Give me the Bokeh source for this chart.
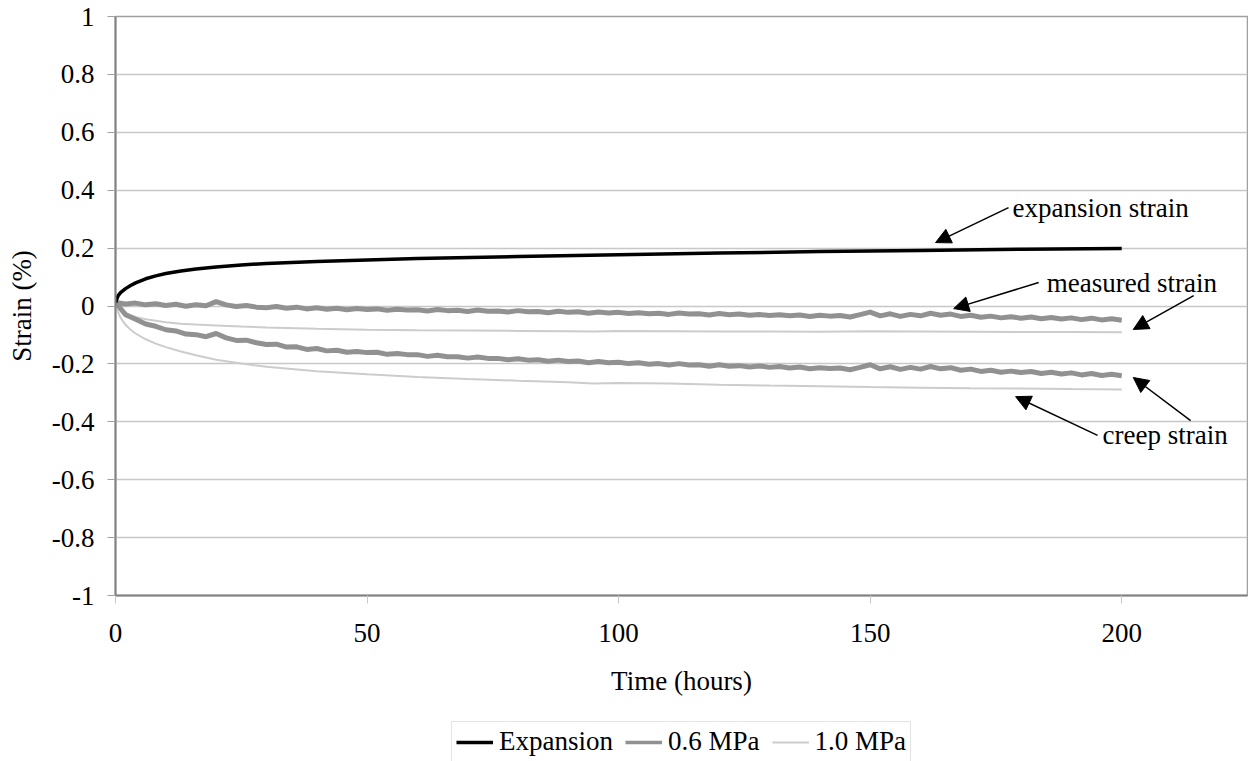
from bokeh.plotting import figure
from bokeh.layouts import column
from bokeh.models import (FixedTicker, CustomJSTickFormatter, Range1d, Legend, LegendItem,
                          Arrow, NormalHead, Label)
from bokeh.embed import file_html
from bokeh.resources import INLINE

FONT = "Liberation Serif"
FS = "27px"

# ---- data ----
t_exp = [0, 0.5, 1, 2, 3, 4, 6, 8, 10, 13, 16, 20, 25, 30, 40, 50, 60, 80, 100, 120, 140, 160, 180, 200]
expansion = [0.012, 0.035, 0.046, 0.060, 0.071, 0.080, 0.094, 0.104, 0.112, 0.121, 0.128, 0.135, 0.142,
             0.147, 0.154, 0.159, 0.164, 0.171, 0.177, 0.183, 0.188, 0.192, 0.196, 0.199]

t_06 = list(range(0, 201, 2))
measured_06 = [0.012, 0.007, 0.010, 0.004, 0.008, 0.002, 0.006, -0.001, 0.004, 0.001,
               0.015, 0.004, -0.002, 0.002, -0.004, -0.006, -0.002, -0.008, -0.004, -0.010,
               -0.006, -0.011, -0.008, -0.013, -0.009, -0.012, -0.010, -0.015, -0.011, -0.014,
               -0.013, -0.017, -0.012, -0.016, -0.015, -0.019, -0.014, -0.018, -0.017, -0.021,
               -0.016, -0.020, -0.019, -0.023, -0.018, -0.022, -0.020, -0.025, -0.021, -0.024,
               -0.022, -0.026, -0.023, -0.027, -0.025, -0.029, -0.024, -0.028, -0.027, -0.031,
               -0.026, -0.030, -0.028, -0.032, -0.029, -0.033, -0.030, -0.034, -0.031, -0.036,
               -0.032, -0.035, -0.033, -0.038, -0.030, -0.021, -0.034, -0.027, -0.036, -0.029,
               -0.034, -0.025, -0.032, -0.028, -0.036, -0.032, -0.039, -0.035, -0.041, -0.037,
               -0.042, -0.038, -0.044, -0.040, -0.045, -0.041, -0.047, -0.042, -0.048, -0.044, -0.049]
creep_06 = [0.012, -0.030, -0.046, -0.062, -0.070, -0.082, -0.086, -0.097, -0.099, -0.106,
            -0.095, -0.110, -0.119, -0.118, -0.127, -0.133, -0.132, -0.142, -0.141, -0.150,
            -0.147, -0.155, -0.153, -0.160, -0.157, -0.161, -0.160, -0.167, -0.164, -0.168,
            -0.168, -0.174, -0.170, -0.175, -0.175, -0.180, -0.176, -0.181, -0.181, -0.186,
            -0.182, -0.187, -0.186, -0.191, -0.187, -0.192, -0.190, -0.196, -0.192, -0.196,
            -0.194, -0.199, -0.196, -0.201, -0.199, -0.204, -0.199, -0.204, -0.203, -0.208,
            -0.203, -0.208, -0.206, -0.211, -0.207, -0.212, -0.209, -0.214, -0.211, -0.217,
            -0.213, -0.216, -0.214, -0.220, -0.212, -0.203, -0.217, -0.210, -0.219, -0.212,
            -0.218, -0.209, -0.217, -0.213, -0.222, -0.218, -0.226, -0.222, -0.229, -0.225,
            -0.230, -0.226, -0.233, -0.229, -0.235, -0.231, -0.238, -0.233, -0.240, -0.236, -0.241]

t_10 = [0, 0.5, 1, 2, 3, 4, 6, 8, 10, 13, 16, 20, 25, 30, 40, 50, 60, 70, 80, 90, 95, 100,
        110, 120, 130, 140, 150, 160, 170, 180, 190, 200]
measured_10 = [0.010, -0.003, -0.012, -0.024, -0.032, -0.038, -0.046, -0.051, -0.056, -0.061, -0.064,
               -0.067, -0.071, -0.074, -0.079, -0.082, -0.084, -0.085, -0.086, -0.087, -0.088, -0.086,
               -0.087, -0.088, -0.088, -0.089, -0.087, -0.088, -0.089, -0.090, -0.090, -0.091]
creep_10 = [0.010, -0.020, -0.040, -0.065, -0.082, -0.095, -0.115, -0.130, -0.142, -0.157, -0.170,
            -0.186, -0.199, -0.210, -0.225, -0.236, -0.245, -0.252, -0.258, -0.263, -0.268, -0.266,
            -0.268, -0.272, -0.275, -0.277, -0.280, -0.282, -0.284, -0.285, -0.287, -0.288]

legend_labels = ["Expansion", "0.6 MPa", "1.0 MPa"]
y_ticks = [-1, -0.8, -0.6, -0.4, -0.2, 0, 0.2, 0.4, 0.6, 0.8, 1]
x_ticks = [0, 50, 100, 150, 200]

# annotations: (text, x, y) and arrows (x0, y0, x1, y1) in data units
notes = [("expansion strain", 178.3, 0.340), ("measured strain", 185.1, 0.081), ("creep strain", 196.2, -0.447)]
arrows = [(177.5, 0.340, 163.0, 0.219),
          (183.5, 0.081, 166.6, -0.009),
          (214.3, 0.036, 202.3, -0.081),
          (195.2, -0.447, 178.9, -0.313),
          (213.7, -0.396, 202.3, -0.247)]

styles = {"exp": dict(line_color="black", line_width=3.5),
          "06": dict(line_color="#919191", line_width=5, line_join="round"),
          "10": dict(line_color="#cccccc", line_width=2)}

p = figure(width=1248, height=721, output_backend="svg", toolbar_location=None,
           x_range=Range1d(0, 225), y_range=Range1d(-1, 1),
           min_border_left=115, min_border_right=1, min_border_top=16, min_border_bottom=126)
p.background_fill_color = "white"
p.border_fill_color = "white"
p.outline_line_color = "#a0a0a0"
p.outline_line_width = 1.5

p.line(t_10, creep_10, **styles["10"])
p.line(t_10, measured_10, **styles["10"])
p.line(t_06, creep_06, **styles["06"])
p.line(t_06, measured_06, **styles["06"])
p.line(t_exp, expansion, **styles["exp"])

# axes
p.xaxis.ticker = FixedTicker(ticks=x_ticks)
p.yaxis.ticker = FixedTicker(ticks=y_ticks)
p.yaxis.formatter = CustomJSTickFormatter(code="return tick.toFixed(1).replace(/\\.0$/, '').replace(/^-0$/, '0');")
for ax in (p.xaxis[0], p.yaxis[0]):
    ax.major_label_text_font = FONT
    ax.major_label_text_font_size = FS
    ax.major_label_text_color = "black"
    ax.axis_label_text_font = FONT
    ax.axis_label_text_font_size = FS
    ax.axis_label_text_font_style = "normal"
    ax.axis_label_text_color = "black"
    ax.axis_line_color = "#808080"
    ax.axis_line_width = 2
    ax.major_tick_in = 0
    ax.major_tick_out = 8
    ax.minor_tick_line_color = None
p.xaxis.major_tick_line_color = "#c8c8c8"
p.yaxis.major_tick_line_color = "#a0a0a0"
p.xaxis.axis_label = "Time (hours)"
p.yaxis.axis_label = "Strain (%)"
p.xaxis.major_label_standoff = 20
p.yaxis.major_label_standoff = 13
p.xaxis.axis_label_standoff = 21
p.yaxis.axis_label_standoff = 12

p.xgrid.grid_line_color = None
p.ygrid.grid_line_color = "#c8c8c8"
p.ygrid.grid_line_width = 1.5

for (x0, y0, x1, y1) in arrows:
    p.add_layout(Arrow(end=NormalHead(size=15, fill_color="black", line_color="black"),
                       x_start=x0, y_start=y0, x_end=x1, y_end=y1,
                       line_color="black", line_width=1.5))
for (txt, x, y) in notes:
    p.add_layout(Label(x=x, y=y, text=txt, text_font=FONT, text_font_size=FS,
                       text_align="left", text_baseline="middle", text_color="black"))

# legend strip below the chart (legend-only renderers kept outside the visible range)
pl = figure(width=1248, height=40, output_backend="svg", toolbar_location=None,
            x_range=Range1d(0, 1), y_range=Range1d(0, 1),
            x_axis_location=None, y_axis_location=None,
            min_border_left=114, min_border_right=0, min_border_top=0, min_border_bottom=0)
pl.outline_line_color = None
pl.grid.visible = False
hidden_x = [5, 6]
hidden_y = [5, 6]
l_exp = pl.line(hidden_x, hidden_y, **styles["exp"])
l_06 = pl.line(hidden_x, hidden_y, line_color="#919191", line_width=3.5)
l_10 = pl.line(hidden_x, hidden_y, **styles["10"])
legend = Legend(items=[LegendItem(label=legend_labels[0], renderers=[l_exp]),
                       LegendItem(label=legend_labels[1], renderers=[l_06]),
                       LegendItem(label=legend_labels[2], renderers=[l_10])],
                orientation="horizontal", location="top",
                label_text_font=FONT, label_text_font_size=FS, label_text_color="black",
                glyph_width=37, glyph_height=20, label_standoff=6, spacing=12,
                padding=4, margin=0, border_line_color="#c8c8c8", border_line_width=1.5,
                background_fill_color="white", background_fill_alpha=1.0)
pl.add_layout(legend, "center")

open("out.html", "w").write(file_html(column(p, pl), INLINE))
